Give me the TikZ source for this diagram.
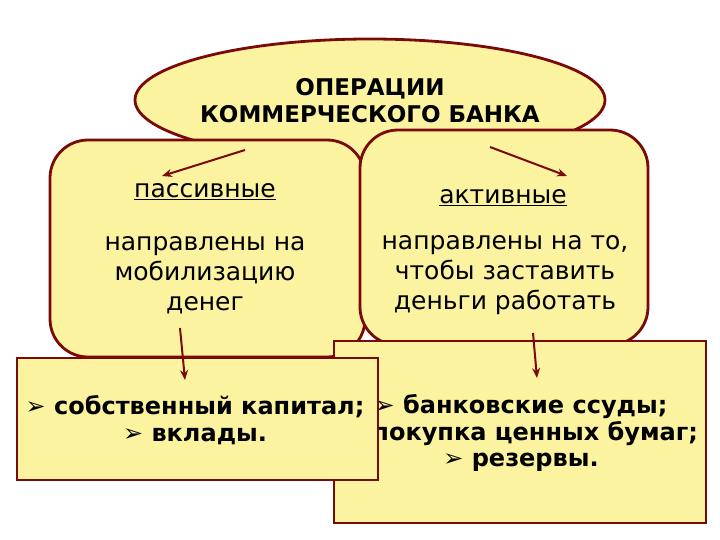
\documentclass[tikz,border=0pt]{standalone}
\usepackage{fontspec}
\setmainfont{DejaVu Sans}
\usetikzlibrary{shapes.geometric,arrows.meta}
\definecolor{fillY}{HTML}{FBF3A0}
\definecolor{edgeR}{HTML}{7A0A0A}
\tikzset{
  shp/.style={draw=edgeR,line width=2.8pt,fill=fillY},
  arr/.style={draw=edgeR,line width=2pt,-{Stealth[length=10pt,width=8pt]}},
  txt/.style={align=center,font=\fontsize{25}{30}\selectfont,inner sep=0pt},
  btxt/.style={align=center,font=\bfseries\fontsize{24}{26.5}\selectfont,inner sep=0pt}
}
\begin{document}
\begin{tikzpicture}[x=1pt,y=-1pt]
\useasboundingbox[fill=white] (0,0) rectangle (720,540);
\node[shp,ellipse,minimum width=470pt,minimum height=122pt] (ell) at (370,100) {};
\node[font=\bfseries\fontsize{23}{27}\selectfont,align=center] (title) at (370,101) {ОПЕРАЦИИ\\КОММЕРЧЕСКОГО БАНКА};
\draw[shp,rounded corners=38pt] (50,140) rectangle (365,357);
\coordinate (L) at (207,250);
\draw[shp,rounded corners=38pt] (360,130) rectangle (648,345);
\coordinate (R) at (504,240);
\node[txt] (pas) at (205,192) {\underline{пассивные}};
\node[txt] (act) at (503,198) {\underline{активные}};
\node[txt] (pasd) at (205,275) {направлены на\\мобилизацию\\денег};
\node[txt] (actd) at (505,275) {направлены на то,\\чтобы заставить\\деньги работать};
\draw[shp] (334,341) rectangle (706,523);
\node[btxt] (rt) at (521,433) {➢ банковские ссуды;\\➢ покупка ценных бумаг;\\➢ резервы.};
\draw[shp] (17,358) rectangle (378,480);
\node[btxt] (lt) at (195,420) {➢ собственный капитал;\\➢ вклады.};
\coordinate (a1s) at (245,150); \coordinate (a1e) at (162,176);
\coordinate (a2s) at (490,147); \coordinate (a2e) at (567,176);
\coordinate (a3s) at (180,328); \coordinate (a3e) at (185,380);
\coordinate (a4s) at (533,333); \coordinate (a4e) at (537,378);
\draw[arr] (a1s) -- (a1e);
\draw[arr] (a2s) -- (a2e);
\draw[arr] (a3s) -- (a3e);
\draw[arr] (a4s) -- (a4e);
\end{tikzpicture}
\end{document}
